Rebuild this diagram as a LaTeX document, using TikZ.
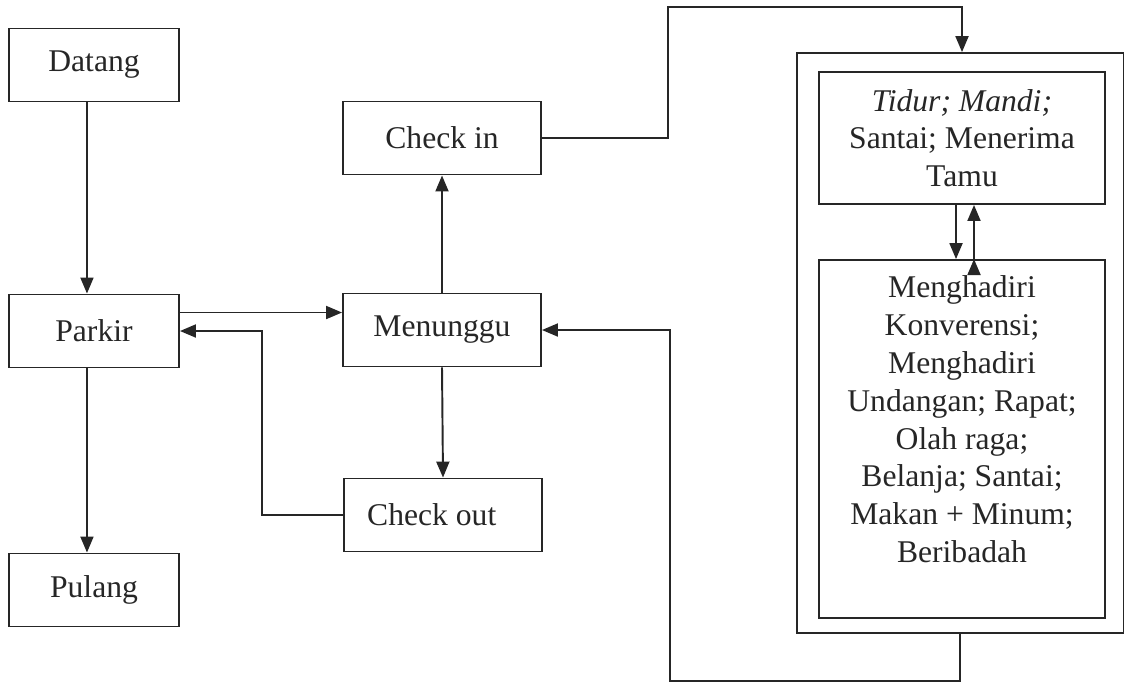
\documentclass[tikz,border=0pt]{standalone}
\usepackage{fontspec}
\setmainfont{Liberation Serif}
\usepackage{tikz}
\usetikzlibrary{arrows.meta}

\definecolor{ink}{RGB}{38,38,38}

\begin{document}
\begin{tikzpicture}[x=0.02cm, y=-0.02cm, line width=1.1pt, draw=ink, text=ink,
  block/.style={draw=ink, rectangle, inner sep=0pt, minimum width=3.4cm, minimum height=1.46cm,
                font=\fontsize{18}{21.5}\selectfont},
  wide/.style={block, minimum width=3.96cm},
  room/.style={block, minimum width=5.72cm, align=center},
  arr/.style={draw=ink, -{Triangle[length=0.32cm, width=0.26cm]}}]

\useasboundingbox (0,0) rectangle (1131,684);

% left column
\node[block] (D) at (94,65)  {Datang};
\node[block] (P) at (94,331) {Parkir};
\node[block] (U) at (94,590) {Pulang};

% middle column
\node[wide]  (I) at (442,138) {Check in};
\node[wide]  (W) at (442,330) {Menunggu};
\node[wide]  (O) at (443,515) {Check out\rule{0.45cm}{0pt}};

% room box with the two activity boxes
\node[block, minimum width=6.54cm, minimum height=11.6cm] (K) at (960,343) {};
\node[room, minimum height=2.64cm] (K1) at (962,138)
      {\textit{Tidur; Mandi;}\\ Santai; Menerima\\ Tamu};
\node[room, minimum height=7.16cm] (K2) at (962,439)
      {\parbox[c][6.52cm][t]{5.6cm}{\centering
       Menghadiri\\ Konverensi;\\ Menghadiri\\ Undangan; Rapat;\\ Olah raga;\\
       Belanja; Santai;\\ Makan + Minum;\\ Beribadah}};

\coordinate (ret) at (262,331);
\coordinate (up1) at (668,7);
\coordinate (up2) at (962,7);
\coordinate (lp)  at (670,681);

\path[arr]
      ([xshift=-4pt]D.south) edge ([xshift=-4pt]P.north)
      ([xshift=-4pt]P.south) edge ([xshift=-4pt]U.north)
      ([yshift=0.37cm]P.east) edge ([yshift=0.37cm]P.east -| W.west)
      (W.north) edge (I.south)
      (W.south) edge (O.south |- O.north)
      ([xshift=-0.12cm]K1.south) edge ([xshift=-0.12cm]K2.north)
      ([xshift=0.24cm]K2.north) edge ([xshift=0.24cm]K1.south);

\draw[arr] (O.west) -| (ret) -- (P.east);
\draw[arr] (I.east) -| (up1) -- (up2) -- (up2 |- K.north);
\draw[arr] (K.south) |- (lp) |- (W.east);
\end{tikzpicture}
\end{document}
